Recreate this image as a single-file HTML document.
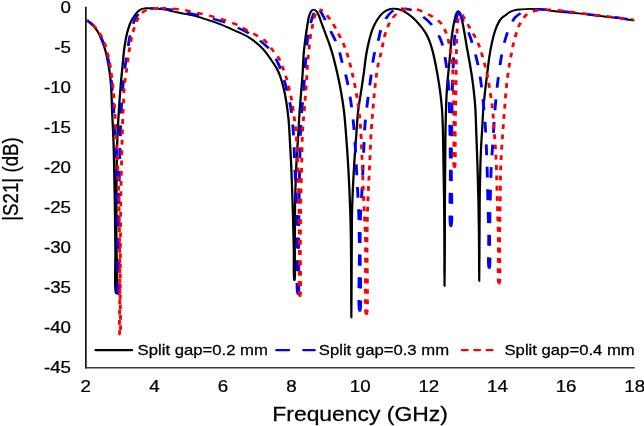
<!DOCTYPE html>
<html><head><meta charset="utf-8"><title>|S21| vs Frequency</title>
<style>html,body{margin:0;padding:0;background:#fff;width:644px;height:426px;overflow:hidden}#w{width:644px;height:426px}svg{display:block}</style>
</head><body><div id="w">
<svg width="644" height="426" viewBox="0 0 644 426" font-family="'Liberation Sans', Arial, Helvetica, sans-serif" fill="#000"><style>text{stroke:#000;stroke-width:0.25px}</style>
<path d="M85.85,6.8 V368.4" fill="none" stroke="#151515" stroke-width="1.7"/>
<path d="M85,367.75 H634.8" fill="none" stroke="#3a3a3a" stroke-width="1.5"/>
<text transform="translate(71.00,12.90) scale(1.2,1)" font-size="15.6" text-anchor="end" >0</text>
<text transform="translate(71.00,52.90) scale(1.2,1)" font-size="15.6" text-anchor="end" >-5</text>
<text transform="translate(71.00,92.90) scale(1.2,1)" font-size="15.6" text-anchor="end" >-10</text>
<text transform="translate(71.00,132.90) scale(1.2,1)" font-size="15.6" text-anchor="end" >-15</text>
<text transform="translate(71.00,172.90) scale(1.2,1)" font-size="15.6" text-anchor="end" >-20</text>
<text transform="translate(71.00,212.90) scale(1.2,1)" font-size="15.6" text-anchor="end" >-25</text>
<text transform="translate(71.00,252.90) scale(1.2,1)" font-size="15.6" text-anchor="end" >-30</text>
<text transform="translate(71.00,292.90) scale(1.2,1)" font-size="15.6" text-anchor="end" >-35</text>
<text transform="translate(71.00,332.90) scale(1.2,1)" font-size="15.6" text-anchor="end" >-40</text>
<text transform="translate(71.00,372.90) scale(1.2,1)" font-size="15.6" text-anchor="end" >-45</text>
<text transform="translate(85.70,391.90) scale(1.2,1)" font-size="15.6" text-anchor="middle" >2</text>
<text transform="translate(154.32,391.90) scale(1.2,1)" font-size="15.6" text-anchor="middle" >4</text>
<text transform="translate(222.94,391.90) scale(1.2,1)" font-size="15.6" text-anchor="middle" >6</text>
<text transform="translate(291.56,391.90) scale(1.2,1)" font-size="15.6" text-anchor="middle" >8</text>
<text transform="translate(360.18,391.90) scale(1.2,1)" font-size="15.6" text-anchor="middle" >10</text>
<text transform="translate(428.80,391.90) scale(1.2,1)" font-size="15.6" text-anchor="middle" >12</text>
<text transform="translate(497.42,391.90) scale(1.2,1)" font-size="15.6" text-anchor="middle" >14</text>
<text transform="translate(566.04,391.90) scale(1.2,1)" font-size="15.6" text-anchor="middle" >16</text>
<text transform="translate(634.66,391.90) scale(1.2,1)" font-size="15.6" text-anchor="middle" >18</text>
<text transform="translate(360.10,420.60) scale(1.157,1)" font-size="19.8" text-anchor="middle" >Frequency (GHz)</text>
<text transform="translate(17.6,179.0) rotate(-90) scale(1,1.2)" font-size="18.7" text-anchor="middle">|S21| (dB)</text>
<g transform="scale(1.2,1)">
<path d="M79.67,350.1 H110.00" stroke="#000" stroke-width="2.1" stroke-linecap="round"/>
<path d="M230.42,350.2 H262.08" stroke="#00f" stroke-width="2.3" stroke-dasharray="10.33 12.17" stroke-linecap="round"/>
<path d="M385.00,350.1 H410.83" stroke="#f00" stroke-width="2.3" stroke-dasharray="4.58 5.75" stroke-linecap="round"/>
</g>
<text transform="translate(137.60,354.70) scale(1.21,1)" font-size="13.8" text-anchor="start" >Split gap=0.2 mm</text>
<text transform="translate(318.80,354.70) scale(1.21,1)" font-size="13.8" text-anchor="start" >Split gap=0.3 mm</text>
<text transform="translate(504.50,354.70) scale(1.21,1)" font-size="13.8" text-anchor="start" >Split gap=0.4 mm</text>
<g transform="scale(1.2,1)" fill="none" stroke-linejoin="round">
<path d="M72.42,20.70 C73.69,21.83 74.98,22.70 76.25,24.10 C77.85,25.87 79.61,28.22 81.00,30.70 C82.55,33.48 83.78,36.78 84.92,40.10 C86.14,43.66 87.12,47.47 88.00,51.40 C88.94,55.59 89.68,60.12 90.33,64.50 C90.99,68.88 91.51,73.37 91.92,77.70 C92.31,81.87 92.51,85.25 92.75,90.00 C93.08,96.51 93.21,105.09 93.50,113.20 C93.82,122.14 94.32,132.42 94.58,141.40 C94.83,149.62 94.92,156.36 95.08,165.00 C95.28,175.52 95.50,187.30 95.67,200.00 C95.87,215.18 96.01,233.96 96.17,250.00 C96.31,264.87 95.17,291.60 96.58,293.00 C96.74,293.15 96.93,293.15 97.08,293.00 C98.64,291.44 97.00,257.41 97.00,240.00 C97.00,223.09 96.99,205.74 97.08,190.00 C97.17,175.92 97.21,162.37 97.50,150.00 C97.75,139.28 98.10,130.38 98.58,120.00 C99.11,108.78 99.91,94.83 100.58,85.00 C101.08,77.82 101.57,72.62 102.08,66.40 C102.60,60.15 102.96,53.50 103.67,47.60 C104.30,42.31 105.00,37.22 106.00,32.60 C106.88,28.54 108.00,24.21 109.17,21.30 C109.95,19.34 110.78,18.16 111.67,16.60 C112.58,15.00 113.45,13.08 114.58,11.80 C115.57,10.69 116.70,9.78 117.92,9.20 C119.07,8.64 120.20,8.45 121.67,8.30 C123.66,8.09 126.34,8.31 128.83,8.50 C131.59,8.71 134.87,9.07 137.50,9.60 C139.75,10.05 141.34,10.69 143.67,11.30 C146.68,12.09 150.62,13.02 154.08,13.90 C157.54,14.78 161.00,15.50 164.42,16.60 C167.91,17.72 171.38,19.20 174.83,20.60 C178.30,22.00 181.95,23.47 185.17,25.00 C188.08,26.38 190.78,27.96 193.33,29.30 C195.58,30.48 197.55,31.42 199.67,32.60 C201.86,33.82 204.36,35.18 206.25,36.50 C207.82,37.59 208.92,38.54 210.33,39.80 C212.01,41.28 213.89,43.06 215.58,44.90 C217.37,46.84 219.19,48.98 220.75,51.20 C222.33,53.44 223.52,55.74 225.00,58.30 C226.72,61.27 228.97,64.90 230.42,68.00 C231.66,70.67 232.43,72.76 233.33,75.70 C234.49,79.46 235.60,84.26 236.50,88.80 C237.46,93.64 238.18,98.87 238.83,103.90 C239.48,108.90 240.00,113.81 240.42,118.90 C240.84,124.17 241.02,128.70 241.33,135.00 C241.78,143.97 242.33,156.02 242.75,167.60 C243.23,180.80 243.65,196.07 244.00,210.00 C244.34,223.53 244.62,237.62 244.83,250.00 C245.02,260.72 244.40,279.16 245.25,280.00 C245.33,280.08 245.42,280.08 245.50,280.00 C246.34,279.16 245.61,260.72 245.67,250.00 C245.73,237.62 245.65,223.53 245.83,210.00 C246.03,196.07 246.33,181.11 246.83,167.60 C247.30,155.21 248.15,142.25 248.67,132.00 C249.06,124.20 249.28,118.11 249.67,111.40 C250.04,104.99 250.50,98.87 250.92,92.60 C251.33,86.33 251.82,80.07 252.17,73.80 C252.51,67.54 252.66,60.28 253.00,55.00 C253.25,51.14 253.54,48.12 253.83,45.00 C254.10,42.24 254.34,40.06 254.67,37.20 C255.07,33.69 255.57,29.18 256.08,25.50 C256.55,22.19 256.90,18.76 257.58,16.10 C258.11,14.05 258.62,11.87 259.50,10.80 C260.07,10.11 260.84,9.59 261.50,9.60 C262.15,9.61 262.85,10.17 263.42,10.80 C264.22,11.70 264.75,13.22 265.42,14.90 C266.39,17.36 267.36,21.17 268.33,24.30 C269.31,27.43 270.28,30.57 271.25,33.70 C272.22,36.83 273.24,39.92 274.17,43.10 C275.11,46.35 275.90,49.08 276.83,53.00 C278.18,58.65 279.89,67.03 281.17,73.80 C282.37,80.21 283.42,86.32 284.33,92.60 C285.25,98.86 286.04,105.14 286.67,111.40 C287.29,117.61 287.60,122.72 288.08,130.00 C288.78,140.35 289.64,154.69 290.25,167.60 C290.90,181.31 291.47,197.08 291.83,210.00 C292.14,220.86 292.28,229.28 292.42,240.00 C292.58,252.38 292.61,266.87 292.67,280.00 C292.72,292.73 292.69,317.60 292.75,317.60 C292.81,317.60 292.93,292.73 293.00,280.00 C293.07,266.87 293.09,252.38 293.17,240.00 C293.23,229.28 293.17,220.86 293.42,210.00 C293.71,197.08 294.35,181.11 295.00,167.60 C295.59,155.21 296.45,142.25 297.08,132.00 C297.56,124.20 297.78,118.10 298.42,111.40 C299.02,104.98 299.97,98.87 300.75,92.60 C301.53,86.33 302.34,80.15 303.08,73.80 C303.84,67.29 304.41,59.93 305.25,54.00 C305.95,49.11 306.68,44.98 307.58,40.70 C308.44,36.66 309.29,32.64 310.50,29.00 C311.61,25.65 312.86,22.43 314.42,19.60 C315.84,17.01 317.41,14.41 319.33,12.60 C321.05,10.98 323.35,9.59 325.17,9.00 C326.54,8.55 327.66,8.55 329.08,8.70 C330.87,8.88 333.14,9.50 335.00,10.40 C336.93,11.34 338.61,12.74 340.42,14.30 C342.52,16.12 344.85,18.51 346.75,20.80 C348.59,23.02 350.19,25.45 351.67,27.80 C353.06,30.02 354.33,32.12 355.42,34.50 C356.57,37.01 357.49,39.77 358.33,42.50 C359.19,45.27 359.85,48.12 360.50,51.00 C361.16,53.95 361.64,56.55 362.25,60.00 C363.07,64.65 364.05,70.93 364.83,76.40 C365.61,81.86 366.33,87.32 366.92,92.80 C367.50,98.29 367.98,103.48 368.33,109.30 C368.73,115.80 368.89,122.15 369.08,130.00 C369.34,140.35 369.41,154.17 369.58,166.00 C369.75,177.50 369.96,187.58 370.08,200.00 C370.23,215.06 370.28,234.70 370.33,250.00 C370.38,262.98 370.36,286.00 370.42,286.00 C370.47,286.00 370.61,262.98 370.67,250.00 C370.73,234.70 370.68,215.06 370.75,200.00 C370.81,187.58 370.92,177.50 371.00,166.00 C371.08,154.17 371.11,140.35 371.25,130.00 C371.36,122.15 371.49,115.81 371.67,109.30 C371.83,103.49 371.97,98.29 372.25,92.80 C372.53,87.32 372.93,81.87 373.33,76.40 C373.74,70.93 374.29,64.79 374.67,60.00 C374.96,56.26 375.15,53.47 375.42,50.00 C375.70,46.23 375.95,42.08 376.33,38.20 C376.71,34.41 377.22,30.15 377.67,27.00 C378.00,24.69 378.31,23.00 378.67,21.00 C379.03,19.00 379.36,16.64 379.83,15.00 C380.18,13.81 380.54,12.65 381.00,12.00 C381.28,11.60 381.61,11.18 381.92,11.20 C382.28,11.23 382.68,11.90 383.00,12.50 C383.50,13.43 383.78,14.91 384.17,16.50 C384.73,18.80 385.31,21.98 385.83,25.00 C386.43,28.42 386.97,32.33 387.50,36.00 C388.03,39.66 388.45,43.18 389.00,47.00 C389.60,51.15 390.33,55.41 391.00,60.00 C391.75,65.15 392.58,70.93 393.25,76.40 C393.92,81.86 394.51,87.32 395.00,92.80 C395.49,98.29 395.87,103.49 396.17,109.30 C396.50,115.81 396.62,123.16 396.83,130.00 C397.04,136.72 397.22,143.33 397.42,150.00 C397.61,156.67 397.81,162.66 398.00,170.00 C398.23,178.99 398.48,189.28 398.67,200.00 C398.88,212.38 399.06,226.58 399.17,240.00 C399.28,253.58 399.26,281.00 399.33,281.00 C399.40,281.00 399.51,253.58 399.58,240.00 C399.65,226.58 399.62,212.89 399.75,200.00 C399.88,187.94 400.08,175.04 400.33,165.00 C400.52,157.41 400.74,151.19 401.00,145.00 C401.22,139.64 401.48,135.40 401.75,130.00 C402.06,123.65 402.33,115.81 402.75,109.30 C403.13,103.49 403.56,98.62 404.08,92.80 C404.67,86.26 405.51,78.37 406.17,72.00 C406.72,66.59 407.10,62.00 407.75,57.00 C408.40,51.97 409.14,46.74 410.08,41.90 C410.97,37.36 411.89,32.76 413.17,28.80 C414.28,25.36 415.42,21.87 417.08,19.40 C418.43,17.40 420.45,16.01 421.83,14.70 C422.86,13.72 423.49,12.92 424.58,12.20 C425.85,11.38 427.50,10.67 429.08,10.20 C430.72,9.72 432.38,9.61 434.25,9.40 C436.46,9.15 439.17,8.91 441.50,8.90 C443.66,8.89 445.68,9.13 447.75,9.30 C449.81,9.47 451.86,9.64 453.92,9.90 C456.00,10.17 458.09,10.58 460.17,10.90 C462.23,11.22 464.27,11.55 466.33,11.80 C468.41,12.05 470.51,12.20 472.58,12.40 C474.65,12.60 476.77,12.79 478.75,13.00 C480.59,13.19 482.08,13.32 484.08,13.60 C486.70,13.96 490.07,14.65 493.08,15.10 C496.10,15.55 499.14,15.90 502.17,16.30 C505.19,16.70 508.23,17.05 511.25,17.50 C514.26,17.95 517.37,18.50 520.25,19.00 C522.91,19.46 525.36,19.93 527.92,20.40" stroke="#000" stroke-width="1.9" stroke-linecap="round"/>
<g stroke="#00f" stroke-width="2.4" stroke-dasharray="10.8 11.8">
<path d="M98.17,294.00 C96.99,292.83 98.01,265.14 97.92,250.00 C97.82,233.87 97.78,215.74 97.58,200.00 C97.40,185.92 97.20,172.89 96.83,160.00 C96.49,147.94 95.96,135.04 95.50,125.00 C95.15,117.41 94.81,111.67 94.42,105.00 C94.03,98.33 93.56,89.95 93.17,85.00 C92.94,82.07 92.77,80.69 92.50,78.00 C92.13,74.33 91.73,69.32 91.08,65.00 C90.43,60.65 89.57,56.18 88.58,52.00 C87.64,48.03 86.63,44.18 85.33,40.50 C84.09,36.96 82.67,33.24 81.00,30.30 C79.58,27.80 77.84,25.57 76.25,23.80 C74.98,22.38 73.69,21.47 72.42,20.30"/>
<path d="M98.17,294.00 C98.27,294.10 98.40,294.10 98.50,294.00 C99.68,292.83 98.59,265.14 98.67,250.00 C98.75,233.87 98.80,215.18 99.00,200.00 C99.16,187.30 99.43,177.06 99.67,165.00 C99.92,152.11 100.14,136.77 100.50,125.00 C100.78,115.69 101.11,107.27 101.50,100.00 C101.80,94.36 102.11,90.00 102.50,85.00 C102.89,80.00 103.26,75.35 103.83,70.00 C104.50,63.81 105.57,55.82 106.33,50.00 C106.93,45.49 107.33,41.96 108.00,38.00 C108.66,34.07 109.37,29.89 110.33,26.30 C111.19,23.13 111.99,20.06 113.33,17.50 C114.53,15.20 116.12,12.96 117.75,11.50 C119.09,10.30 120.39,9.53 122.08,9.00 C124.10,8.37 126.71,8.43 129.17,8.40"/>
<path d="M248.17,293.60 C246.85,292.29 247.95,255.97 247.75,240.00 C247.59,227.09 247.49,216.66 247.17,205.00 C246.85,193.33 246.29,182.06 245.83,170.00 C245.35,157.11 245.00,140.81 244.33,130.00 C243.88,122.62 243.38,116.84 242.75,111.40 C242.26,107.13 241.74,103.77 241.08,100.00 C240.43,96.24 239.71,92.72 238.83,88.80 C237.85,84.43 236.64,79.37 235.42,75.00 C234.29,70.97 233.43,67.43 231.83,63.50 C230.04,59.06 227.28,53.37 224.92,49.80 C223.20,47.20 221.36,45.43 219.67,43.60 C218.21,42.03 216.94,40.74 215.42,39.40 C213.83,38.00 212.26,36.80 210.33,35.40 C207.94,33.67 204.77,31.49 202.08,29.90 C199.67,28.47 197.40,27.43 195.00,26.20 C192.54,24.93 190.32,23.59 187.50,22.40 C184.08,20.96 179.66,19.62 175.83,18.40 C172.17,17.23 168.54,16.22 165.00,15.20 C161.60,14.22 158.26,13.28 155.00,12.40 C151.88,11.56 148.83,10.59 145.83,10.00 C143.01,9.45 140.28,9.17 137.50,8.90 C134.73,8.63 131.83,8.37 129.17,8.40"/>
<path d="M248.17,293.60 C248.27,293.70 248.40,293.70 248.50,293.60 C249.68,292.43 248.64,264.22 248.75,250.00 C248.86,236.38 249.01,223.33 249.17,210.00 C249.32,196.67 249.46,182.89 249.67,170.00 C249.86,157.94 249.99,145.52 250.33,135.00 C250.61,126.36 250.95,118.82 251.42,111.40 C251.83,104.77 252.51,98.77 252.92,92.60 C253.31,86.64 253.54,80.13 253.83,75.00 C254.06,71.02 254.25,68.39 254.50,64.40 C254.82,59.23 255.16,51.76 255.58,46.60 C255.91,42.61 256.21,39.30 256.67,36.00 C257.07,33.08 257.55,30.62 258.08,27.80 C258.65,24.77 259.24,21.15 260.00,18.40 C260.61,16.18 261.12,14.04 262.08,12.50 C262.86,11.26 264.02,9.63 264.92,9.60"/>
<path d="M299.67,310.60 C298.27,309.21 299.65,267.44 299.50,250.00 C299.39,236.74 299.28,225.44 299.00,215.00 C298.77,206.53 298.41,199.78 298.08,192.00 C297.75,183.99 297.38,175.89 297.00,167.60 C296.60,159.00 296.21,149.31 295.75,141.30 C295.36,134.56 295.05,129.20 294.50,122.70 C293.89,115.53 293.11,107.46 292.17,100.10 C291.26,93.04 290.30,86.27 289.00,79.40 C287.69,72.50 285.57,64.57 284.33,58.80 C283.44,54.63 283.11,51.34 282.17,48.00 C281.32,44.99 280.21,42.47 279.08,39.60 C277.89,36.54 276.38,33.18 275.17,30.20 C274.07,27.51 273.10,24.94 272.08,22.50 C271.15,20.26 270.23,18.05 269.33,16.10 C268.57,14.43 267.95,12.64 267.08,11.50 C266.43,10.65 265.67,9.57 264.92,9.60"/>
<path d="M299.67,310.60 C299.77,310.70 299.90,310.70 300.00,310.60 C301.40,309.21 299.99,267.44 300.08,250.00 C300.16,236.74 300.10,225.44 300.42,215.00 C300.67,206.53 301.24,199.78 301.58,192.00 C301.94,183.99 302.20,175.89 302.50,167.60 C302.81,159.00 303.11,149.09 303.42,141.30 C303.66,135.07 303.75,130.50 304.17,124.50 C304.64,117.54 305.50,109.34 306.25,102.00 C306.97,94.95 307.80,88.25 308.58,81.30 C309.38,74.25 310.16,66.01 311.00,60.00 C311.62,55.57 312.12,52.07 312.92,48.50 C313.63,45.32 314.69,42.62 315.42,39.60 C316.16,36.52 316.39,33.47 317.33,30.20 C318.41,26.45 320.05,21.65 321.75,18.40 C323.08,15.85 324.46,13.61 326.17,12.00 C327.63,10.61 329.58,9.53 331.08,9.00 C332.19,8.61 333.03,8.62 334.17,8.60"/>
<path d="M375.58,226.00 C374.19,224.61 375.47,183.46 375.33,166.00 C375.23,152.48 375.09,141.45 374.92,130.00 C374.75,119.54 374.58,108.25 374.33,100.00 C374.16,94.20 374.07,90.16 373.75,85.20 C373.43,80.16 372.88,74.54 372.42,70.00 C372.04,66.32 371.69,63.24 371.25,60.00 C370.83,56.92 370.35,53.91 369.83,51.00 C369.34,48.25 368.94,45.56 368.25,43.00 C367.59,40.57 366.79,38.30 365.83,36.00 C364.85,33.64 363.82,31.37 362.42,29.00 C360.82,26.31 358.71,23.26 356.58,20.80 C354.56,18.46 352.13,16.26 350.00,14.50 C348.21,13.02 346.63,11.72 344.75,10.80 C342.90,9.90 340.71,9.36 338.83,9.00 C337.20,8.69 335.56,8.57 334.17,8.60"/>
<path d="M375.58,226.00 C375.69,226.10 375.81,226.10 375.92,226.00 C377.31,224.61 375.98,183.46 376.08,166.00 C376.16,152.48 376.28,142.32 376.42,130.00 C376.56,117.02 376.66,101.58 376.92,90.00 C377.11,81.10 377.40,74.07 377.67,66.40 C377.93,59.09 378.20,51.25 378.50,45.00 C378.74,40.13 378.96,36.15 379.25,32.00 C379.52,28.18 379.79,24.18 380.17,21.00 C380.46,18.54 380.67,16.04 381.17,14.50 C381.47,13.58 381.85,12.42 382.25,12.40"/>
<path d="M407.50,268.00 C406.49,267.00 407.41,246.34 407.25,235.00 C407.08,222.92 406.72,209.12 406.50,197.60 C406.31,187.70 406.20,178.37 406.00,170.00 C405.83,163.02 405.66,157.58 405.42,150.80 C405.14,143.15 404.89,134.69 404.42,126.40 C403.93,117.77 403.13,107.53 402.50,100.00 C402.02,94.35 401.60,89.99 401.08,85.20 C400.60,80.67 400.15,76.38 399.50,72.00 C398.85,67.62 398.12,63.53 397.17,58.90 C396.08,53.61 394.71,47.39 393.25,42.00 C391.88,36.96 390.18,31.44 388.75,27.50 C387.74,24.72 386.72,22.75 385.83,20.50 C385.01,18.43 384.31,15.96 383.58,14.50 C383.13,13.59 382.66,12.38 382.25,12.40"/>
<path d="M407.50,268.00 C407.60,268.10 407.73,268.10 407.83,268.00 C408.84,267.00 407.88,246.34 408.00,235.00 C408.12,222.92 408.33,209.58 408.58,197.60 C408.81,186.52 409.02,175.30 409.42,165.60 C409.75,157.49 410.26,150.91 410.67,143.30 C411.09,135.33 411.43,126.82 411.92,118.80 C412.38,111.06 412.93,102.93 413.50,96.00 C413.97,90.19 414.41,85.63 415.00,80.00 C415.66,73.70 416.46,66.18 417.33,60.00 C418.09,54.63 418.94,49.48 419.83,45.00 C420.57,41.32 421.25,38.23 422.17,35.00 C423.04,31.90 423.98,28.92 425.17,26.00 C426.35,23.09 427.66,19.68 429.25,17.50 C430.48,15.81 431.90,14.67 433.33,13.60 C434.66,12.61 436.00,11.81 437.50,11.20 C439.05,10.57 440.72,10.21 442.50,9.90 C444.49,9.55 446.80,9.35 448.92,9.30 C450.97,9.25 452.87,9.43 455.00,9.60 C457.37,9.78 460.00,10.08 462.50,10.40 C465.00,10.72 467.40,11.15 470.00,11.50 C472.80,11.88 476.19,12.27 478.75,12.60 C480.75,12.86 482.08,13.00 484.08,13.30 C486.70,13.69 490.07,14.35 493.08,14.80 C496.10,15.25 499.14,15.62 502.17,16.00 C505.19,16.38 508.23,16.67 511.25,17.10 C514.26,17.53 517.37,18.12 520.25,18.60 C522.91,19.05 525.36,19.47 527.92,19.90"/>
</g>
<g stroke="#f00" stroke-width="2.4" stroke-dasharray="4.8 5.5">
<path d="M99.92,335.00 C99.09,334.17 99.87,307.08 99.83,293.00 C99.79,278.75 99.78,264.87 99.67,250.00 C99.54,233.96 99.41,215.18 99.08,200.00 C98.81,187.29 98.41,176.49 98.00,165.00 C97.60,153.84 97.11,141.89 96.67,132.00 C96.30,123.92 95.98,117.25 95.58,110.00 C95.20,102.92 94.81,94.53 94.33,89.00 C94.02,85.37 93.69,83.31 93.33,80.00 C92.90,75.93 92.57,70.99 91.92,66.40 C91.25,61.66 90.32,56.46 89.33,52.00 C88.46,48.07 87.75,44.64 86.42,41.00 C85.01,37.17 82.91,32.78 81.00,29.60 C79.48,27.07 77.84,24.91 76.25,23.20 C74.98,21.83 73.69,21.00 72.42,19.90"/>
<path d="M99.92,335.00 C99.97,335.05 100.03,335.05 100.08,335.00 C100.91,334.17 100.13,307.08 100.17,293.00 C100.21,278.75 100.25,264.87 100.33,250.00 C100.42,233.96 100.49,215.18 100.67,200.00 C100.81,187.30 101.02,177.23 101.25,165.00 C101.51,151.54 101.82,134.53 102.17,122.60 C102.42,113.89 102.73,106.76 103.00,100.00 C103.22,94.49 103.27,89.81 103.67,85.00 C104.04,80.50 104.68,76.83 105.25,72.00 C105.96,65.92 106.74,57.73 107.58,51.40 C108.31,45.97 109.09,40.57 109.92,36.30 C110.53,33.11 111.11,30.68 111.83,28.00 C112.53,25.42 113.31,22.72 114.17,20.50 C114.89,18.64 115.63,16.94 116.50,15.50 C117.24,14.27 117.93,13.23 118.92,12.30 C119.96,11.31 121.17,10.42 122.67,9.80 C124.48,9.05 127.05,8.76 129.17,8.50 C131.15,8.25 132.76,8.19 135.00,8.20" stroke-dashoffset="5.15"/>
<path d="M249.75,296.00 C248.69,294.95 249.69,264.80 249.58,250.00 C249.49,236.20 249.39,223.73 249.17,210.00 C248.93,195.44 248.63,178.84 248.17,165.00 C247.77,153.15 247.33,140.85 246.67,132.00 C246.22,126.02 245.69,122.28 245.08,117.00 C244.40,111.08 243.61,103.65 242.75,98.20 C242.08,93.97 241.36,90.74 240.58,87.00 C239.80,83.24 239.01,79.20 238.08,75.70 C237.26,72.59 236.35,69.85 235.42,67.00 C234.51,64.22 233.82,61.40 232.58,58.80 C231.35,56.20 229.68,54.03 228.00,51.40 C226.04,48.33 223.95,44.17 221.50,41.50 C219.38,39.19 217.04,37.85 214.50,36.00 C211.65,33.92 208.13,31.64 205.17,29.70 C202.52,27.97 200.23,26.34 197.58,24.90 C194.88,23.43 192.00,22.23 189.08,21.00 C186.08,19.73 182.96,18.47 179.83,17.40 C176.71,16.33 173.57,15.55 170.33,14.60 C166.96,13.61 162.96,12.39 160.00,11.60 C157.79,11.01 156.29,10.62 154.17,10.20 C151.65,9.70 148.80,9.23 145.83,8.90 C142.47,8.53 138.06,8.22 135.00,8.20"/>
<path d="M249.75,296.00 C249.83,296.08 249.92,296.08 250.00,296.00 C251.06,294.95 250.15,265.25 250.25,250.00 C250.35,234.92 250.39,219.31 250.58,205.00 C250.76,191.96 251.07,180.08 251.33,167.60 C251.60,155.08 251.66,140.91 252.17,130.00 C252.56,121.57 253.23,115.23 253.75,107.60 C254.29,99.64 254.88,91.05 255.33,83.20 C255.76,75.89 256.02,67.87 256.42,62.00 C256.70,57.83 257.00,55.11 257.33,51.30 C257.71,46.92 258.02,41.67 258.58,37.20 C259.10,33.11 259.79,29.33 260.50,25.50 C261.19,21.77 261.76,17.18 262.75,14.50 C263.38,12.81 264.09,11.36 264.92,10.60 C265.46,10.10 266.06,9.84 266.67,9.80"/>
<path d="M305.17,314.00 C303.60,312.45 305.05,260.10 304.58,240.00 C304.27,226.17 303.67,216.86 303.25,205.00 C302.81,192.74 302.44,180.08 302.00,167.60 C301.56,155.08 301.17,140.35 300.58,130.00 C300.17,122.72 299.79,117.61 299.17,111.40 C298.54,105.14 297.75,98.86 296.83,92.60 C295.92,86.32 294.70,79.31 293.67,73.80 C292.85,69.46 292.08,65.94 291.25,62.20 C290.47,58.69 289.75,55.27 288.83,52.00 C287.96,48.91 287.03,46.09 285.92,43.10 C284.76,39.99 283.40,36.92 282.00,33.70 C280.50,30.26 278.88,26.36 277.17,23.10 C275.61,20.14 273.85,17.18 272.25,14.90 C271.00,13.12 269.72,11.17 268.58,10.40 C267.91,9.95 267.28,9.76 266.67,9.80"/>
<path d="M305.17,314.00 C305.27,314.10 305.40,314.10 305.50,314.00 C307.06,312.45 305.62,260.10 305.83,240.00 C305.98,226.17 306.08,216.86 306.42,205.00 C306.76,192.74 307.42,180.08 307.92,167.60 C308.42,155.08 308.83,140.92 309.42,130.00 C309.87,121.57 310.39,114.91 310.92,107.60 C311.42,100.59 311.85,93.87 312.50,87.00 C313.15,80.10 313.85,72.63 314.83,66.30 C315.68,60.88 316.92,56.23 317.83,51.30 C318.72,46.53 319.33,41.41 320.25,37.20 C321.01,33.73 321.73,30.79 322.75,27.80 C323.72,24.94 324.74,22.09 326.17,19.60 C327.54,17.21 329.40,14.71 331.08,13.10 C332.37,11.87 333.71,11.11 335.00,10.40 C336.12,9.79 337.18,9.32 338.33,9.00 C339.49,8.68 340.69,8.52 341.92,8.50"/>
<path d="M378.50,167.00 C377.43,165.93 378.42,141.69 378.33,130.00 C378.25,119.48 378.12,108.99 378.00,100.00 C377.90,92.66 377.88,86.39 377.67,80.00 C377.47,74.10 377.22,68.05 376.83,63.00 C376.52,58.93 376.14,55.47 375.67,52.00 C375.24,48.87 374.82,46.26 374.17,43.10 C373.40,39.43 372.51,34.82 371.25,31.30 C370.16,28.26 369.10,25.52 367.33,23.10 C365.54,20.64 363.04,18.61 360.50,16.70 C357.84,14.69 354.35,12.77 351.67,11.40 C349.56,10.32 347.62,9.36 345.83,8.90 C344.43,8.54 343.19,8.48 341.92,8.50"/>
<path d="M378.50,167.00 C378.60,167.10 378.73,167.10 378.83,167.00 C379.92,165.93 379.16,141.69 379.33,130.00 C379.49,119.48 379.70,108.99 379.83,100.00 C379.94,92.66 380.01,86.67 380.08,80.00 C380.15,73.33 380.17,66.67 380.25,60.00 C380.33,53.33 380.41,46.07 380.58,40.00 C380.73,34.92 380.87,30.01 381.17,26.00 C381.39,22.96 381.57,20.19 382.00,18.00 C382.31,16.42 382.51,14.49 383.17,14.00"/>
<path d="M415.75,283.20 C414.58,282.04 415.56,254.12 415.33,240.00 C415.11,226.41 414.74,213.33 414.42,200.00 C414.10,186.67 413.89,172.14 413.42,160.00 C413.02,149.83 412.45,141.01 411.92,132.00 C411.42,123.59 411.04,115.17 410.33,107.60 C409.72,100.97 408.88,94.87 408.08,89.00 C407.37,83.70 406.73,78.91 405.83,73.90 C404.93,68.88 403.70,63.37 402.67,58.90 C401.82,55.25 401.01,52.00 400.17,49.00 C399.45,46.45 398.85,44.31 398.00,42.00 C397.13,39.64 396.06,37.29 395.00,35.00 C393.95,32.73 392.85,30.75 391.67,28.30 C390.24,25.35 388.42,21.12 387.08,18.50 C386.16,16.69 385.46,14.52 384.58,14.00 C384.12,13.73 383.55,13.71 383.17,14.00"/>
<path d="M415.75,283.20 C415.85,283.30 415.98,283.30 416.08,283.20 C417.25,282.04 416.20,254.12 416.33,240.00 C416.46,226.41 416.66,212.89 416.83,200.00 C416.99,187.94 416.96,176.49 417.33,165.00 C417.69,153.83 418.41,142.17 419.00,132.00 C419.50,123.25 420.05,115.58 420.58,107.60 C421.10,99.92 421.55,91.76 422.17,85.00 C422.67,79.48 423.24,74.80 423.83,70.00 C424.38,65.56 424.86,61.79 425.58,57.20 C426.42,51.84 427.40,45.35 428.67,39.80 C429.85,34.61 431.42,28.58 432.83,24.90 C433.71,22.60 434.45,21.28 435.50,19.50 C436.62,17.61 437.73,15.32 439.42,13.90 C441.11,12.48 443.46,11.70 445.67,11.00 C447.95,10.28 450.28,9.88 452.92,9.70 C456.05,9.48 460.18,9.86 463.25,10.10 C465.74,10.30 467.76,10.60 470.00,10.90 C472.23,11.20 474.39,11.54 476.67,11.90 C479.07,12.28 481.49,12.67 484.08,13.10 C486.94,13.57 490.07,14.15 493.08,14.60 C496.10,15.05 499.14,15.40 502.17,15.80 C505.19,16.20 508.23,16.55 511.25,17.00 C514.26,17.45 517.37,18.05 520.25,18.50 C522.91,18.91 525.36,19.23 527.92,19.60"/>
</g>
</g>
</svg>
</div></body></html>
